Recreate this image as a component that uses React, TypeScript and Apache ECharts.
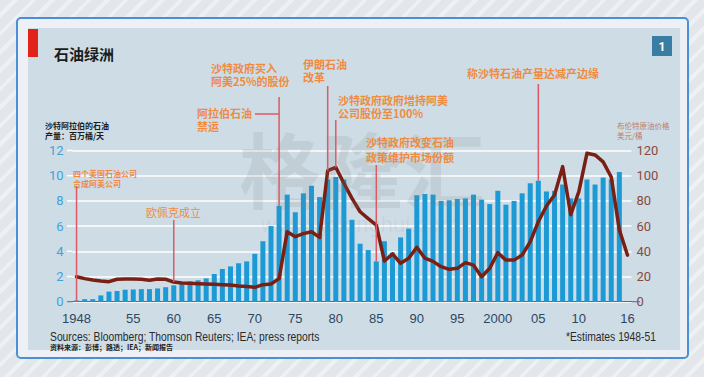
import React, { useEffect, useRef } from "react";
import * as echarts from "echarts";

// ---------- data ----------
const years: string[] = [
  "1948","1949","1950","1951","1952","1953","1954","1955","1956","1957",
  "1958","1959","1960","1961","1962","1963","1964","1965","1966","1967",
  "1968","1969","1970","1971","1972","1973","1974","1975","1976","1977",
  "1978","1979","1980","1981","1982","1983","1984","1985","1986","1987",
  "1988","1989","1990","1991","1992","1993","1994","1995","1996","1997",
  "1998","1999","2000","2001","2002","2003","2004","2005","2006","2007",
  "2008","2009","2010","2011","2012","2013","2014","2015","2016",
];

// Saudi Arabia oil production, million barrels/day
const production: (number | null)[] = [
  0.1, 0.2, 0.2, 0.5, 0.8, 0.85, 0.95, 0.97, 1.0, 1.0,
  1.05, 1.15, 1.3, 1.45, 1.6, 1.7, 1.85, 2.2, 2.6, 2.8,
  3.05, 3.2, 3.8, 4.8, 6.0, 7.6, 8.5, 7.1, 8.6, 9.2,
  8.3, 9.7, 9.9, 9.7, 6.5, 4.6, 4.1, 3.2, 4.8, 3.9,
  5.1, 5.8, 8.45, 8.55, 8.5, 8.0, 8.05, 8.15, 8.2, 8.5,
  8.1, 7.75, 8.8, 7.7, 8.0, 8.6, 9.4, 9.6, 8.75, 8.8,
  9.3, 8.2, 8.2, 9.7, 9.3, 9.85, 9.7, 10.3, null,
];

// Brent crude price, USD/barrel
const price: number[] = [
  19.8, 18.3, 17.2, 16.4, 15.9, 17.8, 18.0, 18.0, 17.8, 17.0,
  18.0, 17.8, 15.6, 14.8, 14.6, 14.3, 14.0, 13.8, 13.5, 13.2,
  12.5, 12.0, 11.4, 13.5, 14.0, 18.3, 55.6, 51.6, 54.0, 55.5,
  51.0, 104.0, 106.6, 94.0, 82.0, 71.4, 66.0, 60.8, 32.3, 37.9,
  30.5, 34.5, 43.2, 34.5, 32.0, 27.8, 25.7, 26.5, 31.0, 29.0,
  19.8, 26.5, 38.9, 33.0, 33.0, 37.0, 47.6, 63.5, 75.9, 84.7,
  107.2, 69.0, 87.4, 117.8, 116.5, 111.0, 99.0, 57.0, 37.0,
];

const xLabels: Record<string, string> = {
  "1948": "1948", "1955": "55", "1960": "60", "1965": "65", "1970": "70",
  "1975": "75", "1980": "80", "1985": "85", "1990": "90", "1995": "95",
  "2000": "2000", "2005": "05", "2010": "10", "2016": "16",
};
const tickYears: string[] = [
  "1948", "1950", "1955", "1960", "1965", "1970", "1975", "1980", "1985",
  "1990", "1995", "2000", "2005", "2010", "2015", "2016",
];

const titleText = "石油绿洲";
const leftAxisTitle = ["沙特阿拉伯的石油", "产量：百万桶/天"];
const rightAxisTitle = ["布伦特原油价格", "美元/桶"];
const sourceText = "Sources: Bloomberg; Thomson Reuters; IEA; press reports";
const sourceTextCn = "资料来源：彭博；路透；IEA；新闻报告";
const noteText = "*Estimates 1948-51";

// annotation events: year, text lines, what the marker line points to
const events = [
  { year: "1948", lines: ["四个美国石油公司", "合成阿美公司"], to: "axis" },
  { year: "1960", lines: ["欧佩克成立"], to: "price" },
  { year: "1973", lines: ["沙特政府买入", "阿美25%的股份"], to: "bar" },
  { year: "1973", lines: ["阿拉伯石油", "禁运"], to: "none" },
  { year: "1979", lines: ["伊朗石油", "改革"], to: "price" },
  { year: "1980", lines: ["沙特政府政府增持阿美", "公司股份至100%"], to: "price" },
  { year: "1985", lines: ["沙特政府改变石油", "政策维护市场份额"], to: "bar" },
  { year: "2005", lines: ["称沙特石油产量达减产边缘"], to: "bar" },
];

// ---------- layout (pixels) ----------
const W = 704;
const H = 377;
const GRID_LEFT = 72.5;
const GRID_TOP = 150.5;
const GRID_W = 559;
const GRID_H = 151.2;

// per event: text anchor and top of marker line
const eventLayout = [
  { tx: 73, ty: 173, lh: 10, size: 8, bold: true, lineTop: 186 },
  { tx: 146, ty: 212, lh: 13, size: 11, bold: false, lineTop: 220 },
  { tx: 211, ty: 68, lh: 13, size: 11, bold: true, lineTop: 97 },
  { tx: 197, ty: 113, lh: 13, size: 11, bold: true, lineTop: null },
  { tx: 303, ty: 64, lh: 13, size: 11, bold: true, lineTop: 86 },
  { tx: 338, ty: 100, lh: 13, size: 11, bold: true, lineTop: 120 },
  { tx: 366, ty: 142, lh: 15, size: 11, bold: true, lineTop: 165 },
  { tx: 467, ty: 73, lh: 13, size: 11, bold: true, lineTop: 84 },
];

const ORANGE = "#ee8b41";
const MARK_RED = "#dc5a66";
const CJK = '"Noto Sans CJK SC", sans-serif';
const SANS = '"Liberation Sans", Roboto, sans-serif';

export default function App() {
  const ref = useRef<HTMLDivElement>(null);

  useEffect(() => {
    document.body.style.margin = "0";
    const chart = echarts.init(ref.current!, null, { renderer: "svg" });

    chart.setOption({
      animation: false,
      backgroundColor: "transparent",
      grid: { left: GRID_LEFT, top: GRID_TOP, width: GRID_W, height: GRID_H, containLabel: false },
      xAxis: {
        type: "category",
        data: years,
        boundaryGap: true,
        axisLine: { lineStyle: { color: "#5a6c7d", width: 1 } },
        axisTick: {
          alignWithLabel: true,
          length: 4,
          interval: (_i: number, v: string) => tickYears.includes(v),
          lineStyle: { color: "#5a6c7d" },
        },
        axisLabel: {
          interval: (_i: number, v: string) => v in xLabels,
          formatter: (v: string) => xLabels[v] ?? "",
          color: "#2c4861",
          fontSize: 13,
          fontFamily: SANS,
          margin: 10,
        },
      },
      yAxis: [
        {
          type: "value",
          min: 0,
          max: 12,
          interval: 2,
          position: "left",
          axisLine: { show: false },
          axisTick: { show: false },
          splitLine: { lineStyle: { color: "#ffffff", width: 1.5 } },
          axisLabel: { color: "#3fa3da", fontSize: 13, fontFamily: "Roboto, sans-serif", margin: 9 },
        },
        {
          type: "value",
          min: 0,
          max: 120,
          interval: 20,
          position: "right",
          axisLine: { show: false },
          axisTick: { show: false },
          splitLine: { show: false },
          axisLabel: { color: "#8a4a3b", fontSize: 13, fontFamily: "Roboto, sans-serif", margin: 5 },
        },
      ],
      series: [
        {
          type: "bar",
          data: production,
          yAxisIndex: 0,
          barWidth: 5,
          itemStyle: { color: "#1c9ad6" },
          z: 2,
        },
        {
          type: "line",
          data: price,
          yAxisIndex: 1,
          symbol: "none",
          lineStyle: { color: "#7a1f13", width: 3.5, cap: "round", join: "round" },
          z: 4,
        },
      ],
    });

    const xPx = (y: string) => chart.convertToPixel({ xAxisIndex: 0 }, y) as number;
    const yLeft = (v: number) => chart.convertToPixel({ yAxisIndex: 0 }, v) as number;
    const yRight = (v: number) => chart.convertToPixel({ yAxisIndex: 1 }, v) as number;

    const g: any[] = [];
    // card + panel
    g.push({ type: "rect", z: -30, shape: { x: 17, y: 18, width: 671, height: 340, r: 4 }, style: { fill: "#edf1f5", stroke: "#4a8fd7", lineWidth: 2 } });
    g.push({ type: "rect", z: -29, shape: { x: 28, y: 28, width: 652, height: 322 }, style: { fill: "#cedce6" } });
    // gridline stubs to the left of the plot
    for (let v = 2; v <= 12; v += 2) {
      const yy = yLeft(v);
      g.push({ type: "line", z: -5, shape: { x1: 67, y1: yy, x2: GRID_LEFT, y2: yy }, style: { stroke: "#ffffff", lineWidth: 1.5 } });
    }
    g.push({ type: "line", z: 5, shape: { x1: 67, y1: yLeft(0), x2: GRID_LEFT, y2: yLeft(0) }, style: { stroke: "#5a6c7d", lineWidth: 1 } });
    g.push({ type: "line", z: 5, shape: { x1: GRID_LEFT + GRID_W, y1: yLeft(0), x2: 640, y2: yLeft(0) }, style: { stroke: "#5a6c7d", lineWidth: 1 } });

    // header
    g.push({ type: "rect", shape: { x: 28, y: 29, width: 10, height: 28 }, style: { fill: "#e2231a" } });
    g.push({ type: "text", x: 54, y: 53, style: { text: titleText, font: `bold 15px ${CJK}`, fill: "#1c1c1c", verticalAlign: "middle" } });
    g.push({ type: "rect", shape: { x: 652, y: 36, width: 20, height: 20 }, style: { fill: "#3a7da2" } });
    g.push({ type: "text", x: 662, y: 46.5, style: { text: "1", font: "bold 12px Roboto, sans-serif", fill: "#ffffff", align: "center", verticalAlign: "middle" } });

    // watermark
    g.push({ type: "text", z: 10, x: 362, y: 166, style: { text: "格隆汇", font: `bold 82px ${CJK}`, fill: "rgba(120,125,130,0.15)", align: "center", verticalAlign: "middle" } });
    g.push({ type: "text", z: 10, x: 360, y: 224, style: { text: "www.gelonghui.com", font: "22px Roboto, sans-serif", fill: "rgba(120,125,130,0.09)", align: "center", verticalAlign: "middle" } });

    // axis titles
    leftAxisTitle.forEach((t, i) => {
      g.push({ type: "text", x: 45, y: 125 + i * 10, style: { text: t, font: `bold 8px ${CJK}`, fill: "#1c1c1c", verticalAlign: "middle" } });
    });
    rightAxisTitle.forEach((t, i) => {
      g.push({ type: "text", x: 617, y: 125 + i * 10, style: { text: t, font: `7.5px ${CJK}`, fill: "#c08060", verticalAlign: "middle" } });
    });

    // events
    events.forEach((ev, k) => {
      const L = eventLayout[k];
      const idx = years.indexOf(ev.year);
      const x = xPx(ev.year);
      ev.lines.forEach((t, i) => {
        g.push({ type: "text", z: 20, x: L.tx, y: L.ty + i * L.lh, style: { text: t, font: `${L.bold ? "bold " : ""}${L.size}px ${CJK}`, fill: ORANGE, verticalAlign: "middle" } });
      });
      if (L.lineTop !== null && ev.to !== "none") {
        let bottom = yLeft(0);
        if (ev.to === "bar") bottom = yLeft(production[idx] as number);
        if (ev.to === "price") bottom = yRight(price[idx]);
        g.push({ type: "line", z: 20, shape: { x1: x, y1: L.lineTop, x2: x, y2: bottom }, style: { stroke: MARK_RED, lineWidth: 1.5 } });
      }
      if (ev.to === "none") {
        g.push({ type: "line", z: 20, shape: { x1: 255, y1: L.ty + 1, x2: x, y2: L.ty + 1 }, style: { stroke: MARK_RED, lineWidth: 1.5 } });
      }
    });

    // footer (condensed via horizontal scaling)
    g.push({ type: "text", x: 50, y: 337, scaleX: 0.86, style: { text: sourceText, font: `12px ${SANS}`, fill: "#2a2a2a", verticalAlign: "middle" } });
    g.push({ type: "text", x: 50, y: 347, style: { text: sourceTextCn, font: `bold 7px ${CJK}`, fill: "#1c1c1c", verticalAlign: "middle" } });
    g.push({ type: "text", x: 656, y: 337, scaleX: 0.86, style: { text: noteText, font: `12px ${SANS}`, fill: "#2a2a2a", align: "right", verticalAlign: "middle" } });

    chart.setOption({ graphic: g });

    return () => chart.dispose();
  }, []);

  return (
    <div
      style={{
        width: W,
        height: H,
        background: "repeating-linear-gradient(135deg, #e3e7eb 0px, #e3e7eb 9px, #eef1f4 9px, #eef1f4 13px)",
      }}
    >
      <div ref={ref} style={{ width: W, height: H }} />
    </div>
  );
}
